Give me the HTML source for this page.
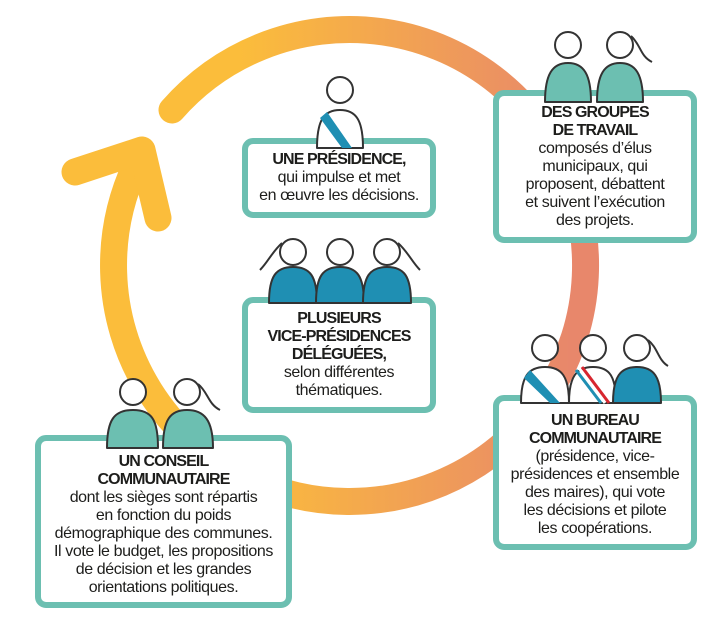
<!DOCTYPE html>
<html><head><meta charset="utf-8"><style>
html,body{margin:0;padding:0;background:#fff;}
#c{position:relative;width:728px;height:634px;overflow:hidden;font-family:"Liberation Sans",sans-serif;color:#1d1d1b;}
svg{position:absolute;left:0;top:0;}
.b{position:absolute;box-sizing:border-box;border:6px solid #6cbfb1;border-radius:11px;background:#fff;text-align:center;font-size:16px;line-height:18px;letter-spacing:-0.4px;display:flex;flex-direction:column;justify-content:center;white-space:nowrap;}
.b b{font-weight:bold;letter-spacing:-0.9px;}
</style></head><body><div id="c">
<svg width="728" height="634" viewBox="0 0 728 634">
<defs><linearGradient id="g" x1="240" y1="0" x2="570" y2="0" gradientUnits="userSpaceOnUse">
<stop offset="0" stop-color="#fbbd3b"/><stop offset="1" stop-color="#e8876b"/></linearGradient></defs>
<path d="M172 110 A236 236 0 1 1 136 165" fill="none" stroke="url(#g)" stroke-width="27" stroke-linecap="round"/>
<polyline points="75,172 142,150 158,218" fill="none" stroke="#fbbd3b" stroke-width="27" stroke-linecap="round" stroke-linejoin="round"/>
</svg>

<div class="b" style="left:242px;top:138px;width:194px;height:80px;"><b>UNE PRÉSIDENCE,</b>qui impulse et met<br>en œuvre les décisions.</div>
<div class="b" style="left:493px;top:90px;width:204px;height:153px;"><b>DES GROUPES<br>DE TRAVAIL</b>composés d’élus<br>municipaux, qui<br>proposent, débattent<br>et suivent l’exécution<br>des projets.</div>
<div class="b" style="left:242px;top:297px;width:194px;height:116px;"><b>PLUSIEURS<br>VICE-PRÉSIDENCES<br>DÉLÉGUÉES,</b>selon différentes<br>thématiques.</div>
<div class="b" style="left:35px;top:435px;width:257px;height:173px;padding-top:6px;"><b>UN CONSEIL<br>COMMUNAUTAIRE</b>dont les sièges sont répartis<br>en fonction du poids<br>démographique des communes.<br>Il vote le budget, les propositions<br>de décision et les grandes<br>orientations politiques.</div>
<div class="b" style="left:493px;top:395px;width:204px;height:155px;padding-top:4px;"><b>UN BUREAU<br>COMMUNAUTAIRE</b>(présidence, vice-<br>présidences et ensemble<br>des maires), qui vote<br>les décisions et pilote<br>les coopérations.</div>

<svg width="728" height="634" viewBox="0 0 728 634" fill="none" stroke="#333" stroke-width="2" stroke-linejoin="round">
<path d="M317 148 C317 120 324 110 340 110 C356 110 363 120 363 148 Z" fill="#fff"/>
<path d="M327 112 L352 148 L342 148 L320 118 Z" fill="#1f8fb3" stroke="none"/>
<circle cx="340" cy="90" r="13" fill="#fff"/>
<path d="M545 102 C545 75 552 63 568 63 C584 63 591 75 591 102 Z" fill="#6cbfb1"/>
<path d="M597 102 C597 75 604 63 620 63 C636 63 643 75 643 102 Z" fill="#6cbfb1"/>
<circle cx="568" cy="45" r="13" fill="#fff"/><circle cx="620" cy="45" r="13" fill="#fff"/>
<path d="M631 36 C641 45 640 56 652 62"/>
<path d="M269 303 C269 276 276 267 293 267 C310 267 317 276 317 303 Z" fill="#1f8fb3"/>
<path d="M316 303 C316 276 323 267 340 267 C357 267 364 276 364 303 Z" fill="#1f8fb3"/>
<path d="M363 303 C363 276 370 267 387 267 C404 267 411 276 411 303 Z" fill="#1f8fb3"/>
<circle cx="293" cy="252" r="13" fill="#fff"/><circle cx="340" cy="252" r="13" fill="#fff"/><circle cx="387" cy="252" r="13" fill="#fff"/>
<path d="M282 243 C272 252 268 262 260 270"/><path d="M398 243 C408 252 412 262 420 270"/>
<path d="M107 448 C107 420 114 410 133 410 C152 410 158 420 158 448 Z" fill="#6cbfb1"/>
<path d="M163 448 C163 420 170 410 187 410 C204 410 213 420 213 448 Z" fill="#6cbfb1"/>
<circle cx="133" cy="392" r="13" fill="#fff"/><circle cx="187" cy="392" r="13" fill="#fff"/>
<path d="M198 384 C208 392 208 404 220 410"/>
<path d="M521 403 C521 377 528 367 545 367 C562 367 569 377 569 403 Z" fill="#fff"/>
<path d="M530 370 L560 403 L550 403 L524 378 Z" fill="#1f8fb3" stroke="none"/>
<path d="M569 403 C569 377 576 367 593 367 C610 367 616 377 616 403 Z" fill="#fff"/>
<path d="M576 370 L601 403" stroke="#1f8fb3" stroke-width="3"/><path d="M579 368 L605 403" stroke="#fff" stroke-width="3"/><path d="M582 367 L609 403" stroke="#d7262f" stroke-width="3"/>
<path d="M613 403 C613 377 620 367 637 367 C654 367 661 377 661 403 Z" fill="#1f8fb3"/>
<circle cx="545" cy="348" r="13" fill="#fff"/><circle cx="593" cy="348" r="13" fill="#fff"/><circle cx="637" cy="348" r="13" fill="#fff"/>
<path d="M648 340 C658 348 658 360 668 366"/>
</svg>
</div></body></html>
